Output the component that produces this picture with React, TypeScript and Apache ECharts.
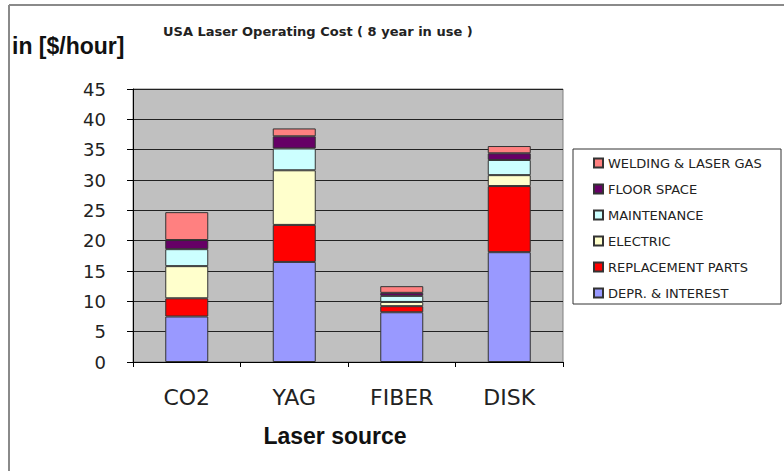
import React, { useEffect, useRef } from "react";
import * as echarts from "echarts";

const categories = ["CO2", "YAG", "FIBER", "DISK"];
const deprInterest = [7.5, 16.5, 8.2, 18.1];
const replacementParts = [3.0, 6.1, 1.0, 10.9];
const electric = [5.3, 9.0, 0.7, 1.8];
const maintenance = [2.8, 3.6, 1.0, 2.5];
const floorSpace = [1.5, 2.0, 0.5, 1.1];
const weldingGas = [4.6, 1.3, 1.1, 1.2];

const seriesDefs = [
  { name: "DEPR. & INTEREST", data: deprInterest, color: "#9999FF" },
  { name: "REPLACEMENT PARTS", data: replacementParts, color: "#FF0000" },
  { name: "ELECTRIC", data: electric, color: "#FFFFCC" },
  { name: "MAINTENANCE", data: maintenance, color: "#CCFFFF" },
  { name: "FLOOR SPACE", data: floorSpace, color: "#660066" },
  { name: "WELDING & LASER GAS", data: weldingGas, color: "#FF8080" },
];

export default function App() {
  const ref = useRef<HTMLDivElement>(null);
  useEffect(() => {
    if (!ref.current) return;
    const chart = echarts.init(ref.current, undefined, { renderer: "svg" });
    chart.setOption({
      animation: false,
      backgroundColor: "#ffffff",
      grid: {
        left: 133,
        top: 89,
        right: 221,
        bottom: 109,
        show: true,
        backgroundColor: "#C0C0C0",
        borderColor: "#808080",
        borderWidth: 1,
      },
      legend: {
        orient: "vertical",
        left: 593,
        top: 156,
        icon: "rect",
        itemWidth: 9,
        itemHeight: 9,
        itemGap: 12,
        padding: 0,
        data: seriesDefs.map((s) => s.name).reverse(),
        textStyle: {
          fontFamily: "DejaVu Sans",
          fontSize: 13,
          lineHeight: 14,
          color: "#222",
        },
      },
      xAxis: {
        type: "category",
        data: categories,
        axisLine: { lineStyle: { color: "#000", width: 1 } },
        axisTick: { show: true, length: 5, alignWithLabel: false, lineStyle: { color: "#000" } },
        axisLabel: {
          margin: 24,
          fontFamily: "DejaVu Sans",
          fontSize: 22,
          color: "#222",
        },
      },
      yAxis: {
        type: "value",
        min: 0,
        max: 45,
        interval: 5,
        axisLine: { show: true, lineStyle: { color: "#000", width: 1 } },
        axisTick: { show: true, length: 6, lineStyle: { color: "#000" } },
        axisLabel: {
          margin: 27,
          fontFamily: "DejaVu Sans",
          fontSize: 18,
          color: "#222",
        },
        splitLine: { show: true, lineStyle: { color: "#222", width: 1 } },
      },
      series: seriesDefs.map((s) => ({
        name: s.name,
        type: "bar",
        stack: "cost",
        barWidth: 43,
        data: s.data,
        itemStyle: { color: s.color, borderColor: "#333", borderWidth: 1 },
      })),
      graphic: [
        {
          type: "line",
          shape: { x1: 9, y1: 5, x2: 784, y2: 5 },
          style: { stroke: "#8a8a8a", lineWidth: 2 },
          silent: true,
        },
        {
          type: "line",
          shape: { x1: 9, y1: 5, x2: 9, y2: 471 },
          style: { stroke: "#8a8a8a", lineWidth: 2 },
          silent: true,
        },
        {
          type: "rect",
          shape: { x: 573, y: 149, width: 208, height: 155 },
          style: { fill: "#ffffff", stroke: "#333", lineWidth: 1 },
          z: -1,
          silent: true,
        },
        {
          type: "text",
          x: 163,
          y: 31,
          style: {
            text: "USA Laser Operating Cost ( 8 year in use )",
            font: "bold 13px 'DejaVu Sans'",
            fill: "#222",
            textAlign: "left",
            textVerticalAlign: "middle",
          },
        },
        {
          type: "text",
          x: 12,
          y: 46,
          style: {
            text: "in [$/hour]",
            font: "bold 23px 'Liberation Sans'",
            fill: "#111",
            textAlign: "left",
            textVerticalAlign: "middle",
          },
        },
        {
          type: "text",
          x: 335,
          y: 436,
          style: {
            text: "Laser source",
            font: "bold 23px 'Liberation Sans'",
            fill: "#111",
            textAlign: "center",
            textVerticalAlign: "middle",
          },
        },
      ],
    });
    return () => chart.dispose();
  }, []);
  return (
    <div
      ref={ref}
      style={{ position: "fixed", left: 0, top: 0, width: 784, height: 471 }}
    />
  );
}
